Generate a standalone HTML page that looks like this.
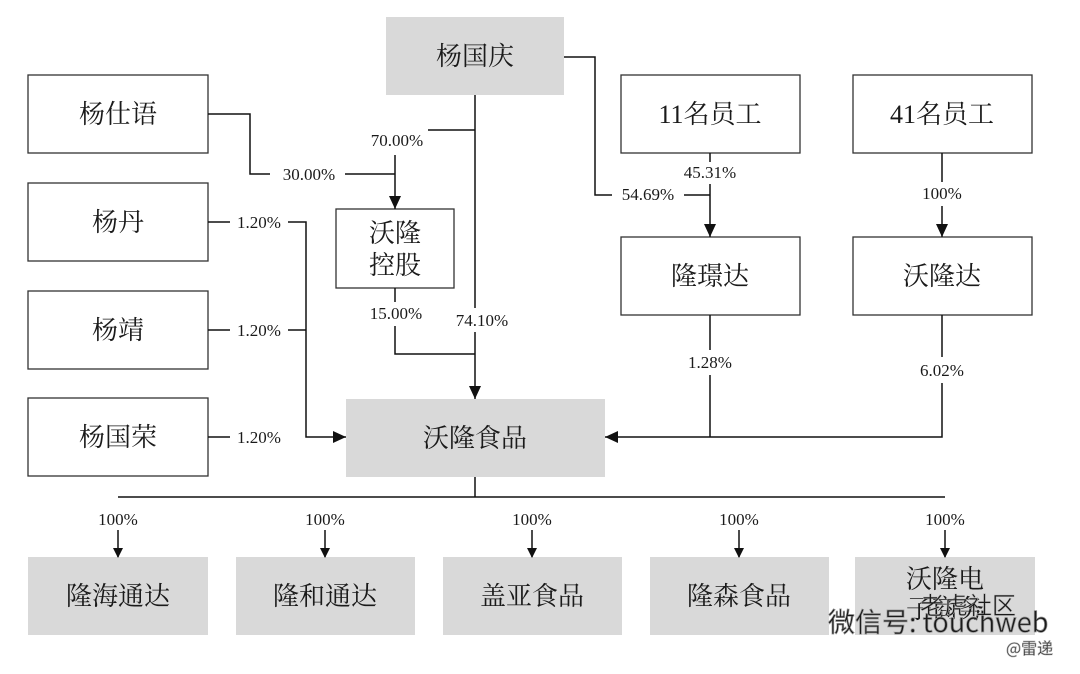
<!DOCTYPE html>
<html><head><meta charset="utf-8"><style>
body{margin:0;background:#fff}
svg text{font-family:"Liberation Serif","Noto Serif CJK SC",serif;fill:#1a1a1a}
.b{font-size:26px}
.p{font-size:17px}
</style></head><body>
<svg width="1080" height="669" viewBox="0 0 1080 669">
<defs><marker id="a" markerWidth="10" markerHeight="10" refX="9" refY="5" orient="auto" markerUnits="userSpaceOnUse"><path d="M0,0L10,5L0,10z" fill="#111"/></marker>
<marker id="a2" markerWidth="14" markerHeight="14" refX="13" refY="6" orient="auto" markerUnits="userSpaceOnUse"><path d="M0,0L13,6L0,12z" fill="#111"/></marker></defs>
<g stroke="#333" stroke-width="1.3" fill="#fff">
<rect x="28" y="75" width="180" height="78"/>
<rect x="28" y="183" width="180" height="78"/>
<rect x="28" y="291" width="180" height="78"/>
<rect x="28" y="398" width="180" height="78"/>
<rect x="336" y="209" width="118" height="79"/>
<rect x="621" y="75" width="179" height="78"/>
<rect x="853" y="75" width="179" height="78"/>
<rect x="621" y="237" width="179" height="78"/>
<rect x="853" y="237" width="179" height="78"/>
</g>
<g fill="#d9d9d9">
<rect x="386" y="17" width="178" height="78"/>
<rect x="346" y="399" width="259" height="78"/>
<rect x="28" y="557" width="180" height="78"/>
<rect x="236" y="557" width="179" height="78"/>
<rect x="443" y="557" width="179" height="78"/>
<rect x="650" y="557" width="179" height="78"/>
<rect x="855" y="557" width="180" height="78"/>
</g>
<g stroke="#111" stroke-width="1.5" fill="none">
<path d="M475,95V308M475,332V399" marker-end="url(#a2)"/>
<path d="M475,130H428"/>
<path d="M395,155V209" marker-end="url(#a2)"/>
<path d="M208,114H250V174H270M345,174H395"/>
<path d="M395,288V302M395,326V354H475"/>
<path d="M208,222H230M288,222H306V437H346" marker-end="url(#a2)"/>
<path d="M208,330H230M288,330H306M208,437H230"/>
<path d="M564,57H595V195H612M684,195H710"/>
<path d="M710,153V162M710,184V237" marker-end="url(#a2)"/>
<path d="M942,153V182M942,206V237" marker-end="url(#a2)"/>
<path d="M710,315V350M710,375V437"/>
<path d="M942,315V357M942,383V437H605" marker-end="url(#a2)"/>
<path d="M475,477V497M118,497H945"/>
<path d="M118,530V557" marker-end="url(#a)"/>
<path d="M325,530V557" marker-end="url(#a)"/>
<path d="M532,530V557" marker-end="url(#a)"/>
<path d="M739,530V557" marker-end="url(#a)"/>
<path d="M945,530V557" marker-end="url(#a)"/>
</g>
<g class="b" text-anchor="middle">
<text x="475" y="65">杨国庆</text>
<text x="118" y="123">杨仕语</text>
<text x="118" y="231">杨丹</text>
<text x="118" y="339">杨靖</text>
<text x="118" y="446">杨国荣</text>
<text x="395" y="242">沃隆</text>
<text x="395" y="274">控股</text>
<text x="710" y="123">11名员工</text>
<text x="942" y="123">41名员工</text>
<text x="710" y="285">隆璟达</text>
<text x="942" y="285">沃隆达</text>
<text x="475" y="447">沃隆食品</text>
<text x="118" y="605">隆海通达</text>
<text x="325" y="605">隆和通达</text>
<text x="532" y="605">盖亚食品</text>
<text x="739" y="605">隆森食品</text>
<text x="945" y="588">沃隆电</text>
<text x="945" y="618">子商务</text>
</g>
<g class="p" text-anchor="middle">
<text x="397" y="146">70.00%</text>
<text x="309" y="180">30.00%</text>
<text x="259" y="228">1.20%</text>
<text x="259" y="336">1.20%</text>
<text x="259" y="443">1.20%</text>
<text x="396" y="319">15.00%</text>
<text x="482" y="326">74.10%</text>
<text x="648" y="200">54.69%</text>
<text x="710" y="178">45.31%</text>
<text x="942" y="199">100%</text>
<text x="710" y="368">1.28%</text>
<text x="942" y="376">6.02%</text>
<text x="118" y="525">100%</text>
<text x="325" y="525">100%</text>
<text x="532" y="525">100%</text>
<text x="739" y="525">100%</text>
<text x="945" y="525">100%</text>
</g>
<g>
<text x="828" y="632" font-size="27" fill="#f4f4f4" stroke="#999" stroke-width="0.7" style="font-family:'Noto Sans CJK SC',sans-serif">微信号: touchweb</text>
<text x="920" y="614" font-size="24" fill="#eee" stroke="#bbb" stroke-width="0.5" style="font-family:'Noto Sans CJK SC',sans-serif">老虎社区</text>
<text x="1006" y="654" font-size="16" fill="#fff" stroke="#aaa" stroke-width="0.6" style="font-family:'Noto Sans CJK SC',sans-serif">@雷递</text>
</g>
</svg>
</body></html>
